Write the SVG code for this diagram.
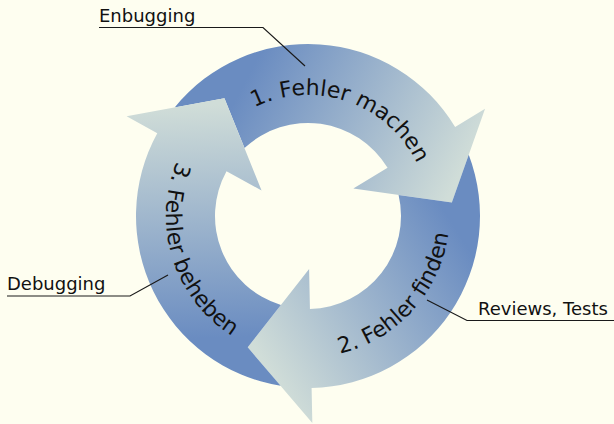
<svg xmlns="http://www.w3.org/2000/svg" xmlns:xlink="http://www.w3.org/1999/xlink" width="614" height="424" viewBox="0 0 614 424">
<style>
.lbl{font-family:"DejaVu Sans","Liberation Sans",sans-serif;font-size:18px;fill:#111}
.step{font-family:"DejaVu Sans","Liberation Sans",sans-serif;font-size:22px;fill:#111}
.lead{fill:none;stroke:#1a1a1a;stroke-width:1.2}
</style>
<defs>
<linearGradient id="g" gradientUnits="userSpaceOnUse" x1="150" y1="20" x2="-50" y2="140">
<stop offset="0" stop-color="#6a8cc1"/>
<stop offset="1" stop-color="#d0ddd8"/>
</linearGradient>
<path id="arrow" d="M162,-57.81 A172,172 0 0 1 0,172 L0,207 L-63,130 L0,53 L0,93 A93,93 0 0 0 91.02,-19.12 L144.08,-10.44 Z" fill="url(#g)"/>
<path id="t1" d="M193.59,176.60 A121,121 0 0 1 422.41,255.40"/>
<path id="t2" d="M212.98,321.52 A142,142 0 0 0 403.02,110.48"/>
<path id="t3" d="M265.30,80.57 A142,142 0 0 0 350.70,351.43"/>
</defs>
<rect width="614" height="424" fill="#fefef0"/>
<g id="step1">
<use xlink:href="#arrow" href="#arrow" transform="translate(308 216) rotate(-121.2)"/>
<text class="step"><textPath xlink:href="#t1" href="#t1" startOffset="50%" text-anchor="middle">1. Fehler machen</textPath></text>
</g>
<g id="step2">
<use xlink:href="#arrow" href="#arrow" transform="translate(308 216) rotate(-1.2)"/>
<text class="step"><textPath xlink:href="#t2" href="#t2" startOffset="50%" text-anchor="middle">2. Fehler finden</textPath></text>
</g>
<g id="step3">
<use xlink:href="#arrow" href="#arrow" transform="translate(308 216) rotate(118.8)"/>
<text class="step"><textPath xlink:href="#t3" href="#t3" startOffset="50%" text-anchor="middle">3. Fehler beheben</textPath></text>
</g>
<g id="connectors">
<polyline class="lead" points="99,27.5 263,27.5 305,66"/>
<polyline class="lead" points="7,296 130,296 168,275"/>
<polyline class="lead" points="614,320.5 467,320.5 427,300"/>
</g>
<g id="label-enbugging"><text class="lbl" x="99" y="22">Enbugging</text></g>
<g id="label-debugging"><text class="lbl" x="7" y="290">Debugging</text></g>
<g id="label-reviews"><text class="lbl" x="478" y="315">Reviews, Tests</text></g>
</svg>
